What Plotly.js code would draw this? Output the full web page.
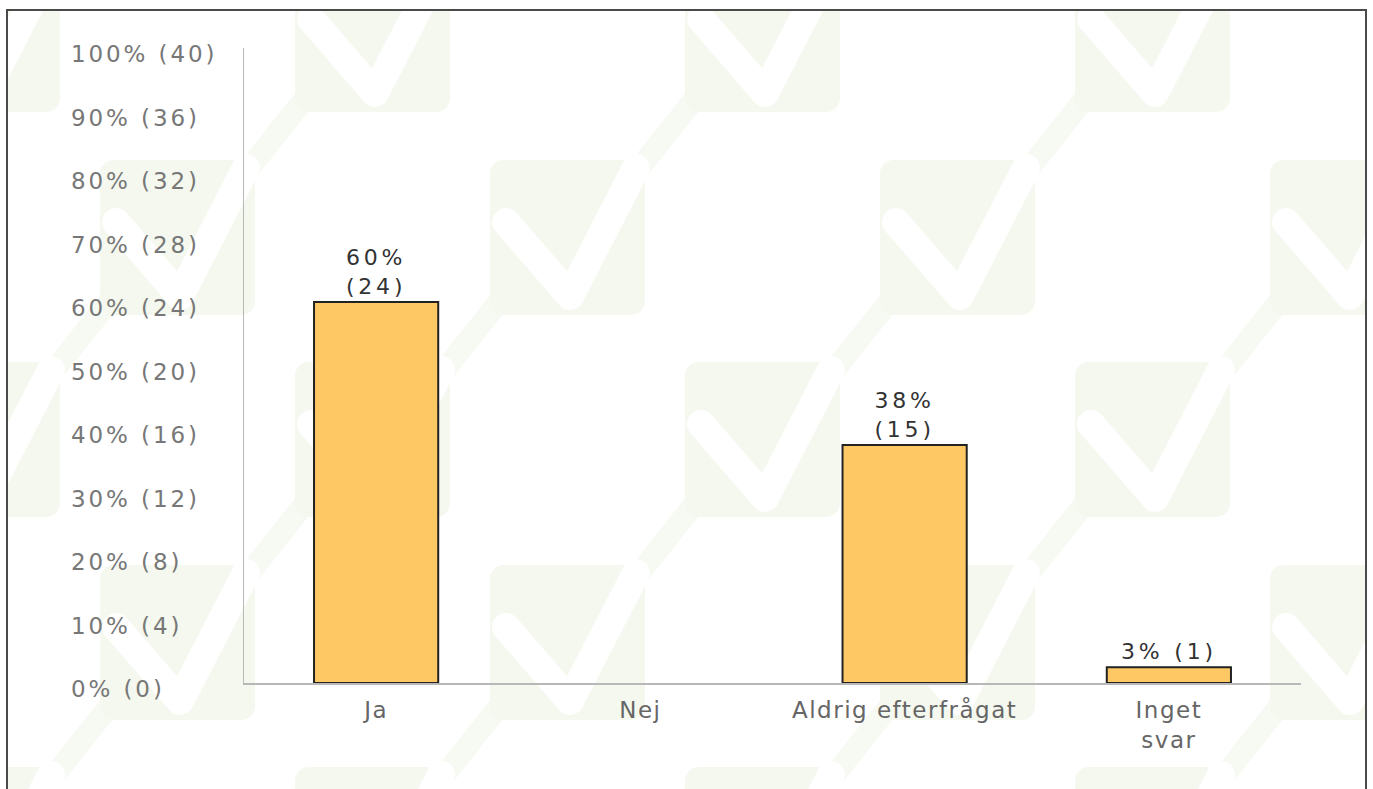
<!DOCTYPE html>
<html>
<head>
<meta charset="utf-8">
<script src="https://cdn.plot.ly/plotly-3.0.1.min.js"></script>
<style>
  html, body { margin: 0; padding: 0; width: 1373px; height: 789px; overflow: hidden; background: #ffffff; }
  #frame { position: absolute; left: 6px; top: 9px; width: 1357px; height: 800px; border: 2px solid #4a4a4a; background-color: #ffffff; }
  #chart { position: absolute; left: 0; top: 0; width: 1373px; height: 752px; overflow: hidden; }
  #chart .annotation-text { letter-spacing: 2.9px; }
  #chart .xtick text { letter-spacing: 1.5px; }
  #chart .textpoint text, #chart .bartext { letter-spacing: 3.8px; }
</style>
</head>
<body>
<div id="frame"></div>
<div id="chart"></div>
<script>
// ---- data ----
var categories = ['Ja', 'Nej', 'Aldrig efterfrågat', 'Inget svar'];
var tickLabels = ['Ja', 'Nej', 'Aldrig efterfrågat', 'Inget<br>svar'];
var counts = [24, 0, 15, 1];
var total = 40;
var yTickCounts = [0, 4, 8, 12, 16, 20, 24, 28, 32, 36, 40];
var yTickLabels = ['0% (0)', '10% (4)', '20% (8)', '30% (12)', '40% (16)', '50% (20)',
                   '60% (24)', '70% (28)', '80% (32)', '90% (36)', '100% (40)'];

// ---- background watermark pattern (decoration) ----
(function () {
  var sq = '#f4f8ee', band = '#f6faf2';
  function square(x, y) {
    return "<rect x='" + x + "' y='" + y + "' width='155' height='155' rx='14' fill='" + sq + "'/>" +
      "<polyline points='" + (x + 16) + "," + (y + 62) + " " + (x + 80) + "," + (y + 136) + " " + (x + 146) + "," + (y + 8) +
      "' fill='none' stroke='#ffffff' stroke-width='28' stroke-linejoin='round' stroke-linecap='round'/>";
  }
  function line(x1, y1, x2, y2) {
    return "<line x1='" + x1 + "' y1='" + y1 + "' x2='" + x2 + "' y2='" + y2 + "' stroke='" + band + "' stroke-width='22'/>";
  }
  var svg = "<svg xmlns='http://www.w3.org/2000/svg' width='390' height='405'>" +
    line(140, 425, 210, 337) + line(140, 20, 210, -68) +
    line(335, 222, 405, 134) + line(-55, 222, 15, 134) +
    square(0, 0) + square(0, 405) + square(195, 202) + square(-195, 202) + square(195, -203) +
    "</svg>";
  var fr = document.getElementById('frame');
  fr.style.backgroundImage = "url(\"data:image/svg+xml," + encodeURIComponent(svg) + "\")";
  fr.style.backgroundPosition = '92px 149px';
})();

// ---- bar labels derived from data ----
var barText = counts.map(function (v) {
  if (v === 0) return '';
  var pct = Math.round(v / total * 100);
  var s = pct + '% (' + v + ')';
  return s.length > 6 ? pct + '%<br>(' + v + ')' : s;
});
var lineWidths = counts.map(function (v) { return v > 0 ? 2 : 0; });

// y tick labels, left-aligned, placed on the y scale
var yLabelAnnotations = yTickCounts.map(function (v, i) {
  return {
    xref: 'paper', yref: 'y', x: -0.1655, y: v,
    xanchor: 'left', yanchor: 'middle', align: 'left', yshift: -6,
    text: yTickLabels[i], showarrow: false,
    font: { family: 'DejaVu Sans', size: 23, color: '#777777' }
  };
});

var traces = [
  {
    type: 'bar',
    x: categories,
    y: counts,
    width: 0.47,
    marker: { color: '#fec965', line: { color: '#222222', width: lineWidths } },
    text: barText,
    textposition: 'outside',
    textfont: { family: 'DejaVu Sans', size: 22, color: '#333333' },
    cliponaxis: false,
    hoverinfo: 'skip'
  }
];

var layout = {
  width: 1373, height: 752,
  margin: { l: 244, r: 72, t: 48, b: 69 },
  paper_bgcolor: 'rgba(0,0,0,0)',
  plot_bgcolor: 'rgba(0,0,0,0)',
  showlegend: false,
  xaxis: {
    type: 'category',
    range: [-0.5, 3.5],
    tickmode: 'array', tickvals: categories, ticktext: tickLabels,
    showline: true, linecolor: '#b8b8b8', linewidth: 1.5,
    showgrid: false, zeroline: false, ticks: '',
    ticklabelstandoff: 6,
    tickfont: { family: 'DejaVu Sans', size: 23, color: '#666666' },
    fixedrange: true
  },
  yaxis: {
    range: [0, 40],
    tickmode: 'array', tickvals: yTickCounts,
    showline: true, linecolor: '#b8b8b8', linewidth: 1.5,
    showgrid: false, zeroline: false, ticks: '', showticklabels: false,
    fixedrange: true
  },
  annotations: yLabelAnnotations
};

Plotly.newPlot('chart', traces, layout, { staticPlot: true, displayModeBar: false });
</script>
</body>
</html>
